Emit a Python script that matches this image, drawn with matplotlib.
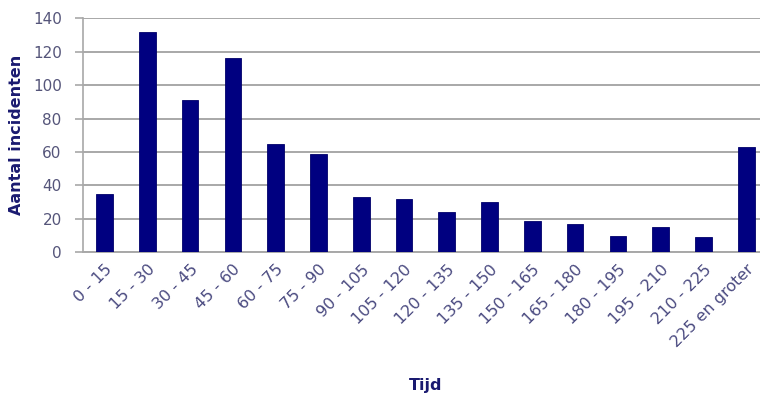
import matplotlib
matplotlib.use("Agg")
import matplotlib.pyplot as plt

categories = ["0 - 15", "15 - 30", "30 - 45", "45 - 60", "60 - 75", "75 - 90",
              "90 - 105", "105 - 120", "120 - 135", "135 - 150", "150 - 165",
              "165 - 180", "180 - 195", "195 - 210", "210 - 225", "225 en groter"]
counts = [35, 132, 91, 116, 65, 59, 33, 32, 24, 30, 19, 17, 10, 15, 9, 63]
y_ticks = [0, 20, 40, 60, 80, 100, 120, 140]

fig = plt.figure(figsize=(7.6, 3.99), dpi=100)
ax = fig.add_axes([0.1095, 0.3677, 0.9005, 0.5865])

x = range(len(categories))
ax.bar(x, counts, width=0.39, color="#000080", edgecolor="#00006a",
       linewidth=0.6, zorder=3)

ax.set_xlim(-0.5, len(categories) - 0.5)
ax.set_ylim(0, 140)
ax.set_yticks(y_ticks)
ax.yaxis.grid(True, color="#a8a8a8", linewidth=1.4, zorder=0)
ax.set_axisbelow(True)

for side in ("top", "right"):
    ax.spines[side].set_visible(False)
ax.spines["left"].set_color("#a8a8a8")
ax.spines["left"].set_linewidth(1.2)
ax.spines["bottom"].set_color("#a8a8a8")
ax.spines["bottom"].set_linewidth(1.4)

label_color = "#4a4a80"
ax.tick_params(axis="y", colors="#a8a8a8", length=6, width=1.2,
               labelcolor="#55557a", labelsize=11, pad=9.5)
ax.tick_params(axis="x", length=0, labelcolor=label_color, labelsize=11.5, pad=7)
ax.set_xticks(list(x))
ax.set_xticklabels(categories, rotation=45, ha="right", rotation_mode="anchor")

ax.set_ylabel("Aantal incidenten", fontsize=11.5, fontweight="bold",
              color="#1a1a70")
ax.yaxis.label.set_va("center")
ax.yaxis.set_label_coords(-0.097, 0.5)
ax.set_xlabel("Tijd", fontsize=11.5, fontweight="bold", color="#1a1a70",
              labelpad=20)

fig.savefig("out.png", dpi=100, facecolor="white")
